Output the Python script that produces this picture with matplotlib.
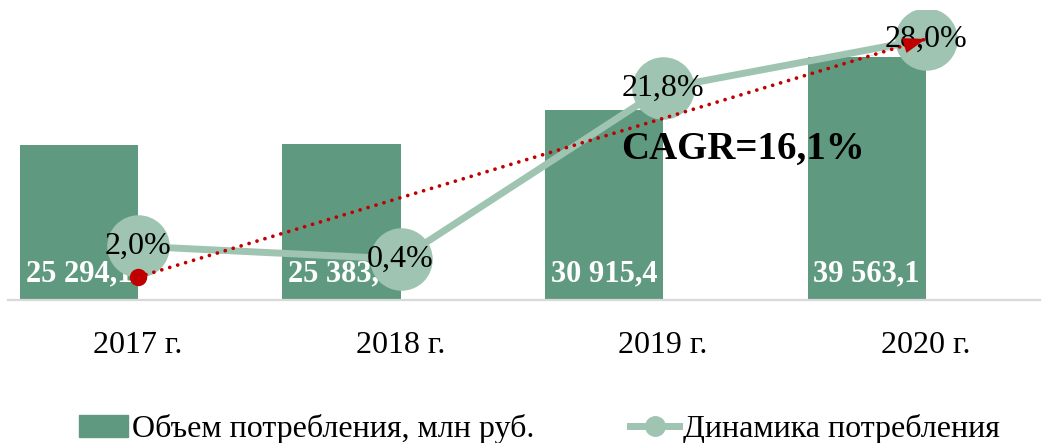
import matplotlib
matplotlib.use("Agg")
import matplotlib.pyplot as plt
import numpy as np
from matplotlib.patches import Patch
from matplotlib.lines import Line2D

plt.rcParams['font.family'] = ['Liberation Serif', 'DejaVu Serif']

# данные
years = ['2017 г.', '2018 г.', '2019 г.', '2020 г.']
volume = [25294.1, 25383.6, 30915.4, 39563.1]   # млн руб.
growth = [2.0, 0.4, 21.8, 28.0]                 # %
cagr_label = 'CAGR=16,1%'

bar_color = '#5f9a80'
line_color = '#9fc4b2'
red = '#c00000'

fig = plt.figure(figsize=(10.47, 4.43), dpi=100)
ax = fig.add_axes([8 / 1047, 1 - 300 / 443, 1032 / 1047, 290 / 443])
ax2 = ax.twinx()

x = np.arange(len(years))
shift = 0.225  # линия и подписи оси смещены к правому краю столбцов

ax.bar(x, volume, width=0.45, color=bar_color, zorder=2)
for xi, v in zip(x, volume):
    txt = f"{v:,.1f}".replace(',', ' ').replace('.', ',')
    ax.annotate(txt, xy=(xi, 0), xytext=(0, 19), textcoords='offset points',
                ha='center', va='center', color='white', fontsize=22,
                fontweight='bold', zorder=3)

ax.set_xlim(-0.27, 3.66)
ax.set_ylim(0, 47270)
ax.set_xticks(x + shift)
ax.set_xticklabels(years, fontsize=23)
ax.tick_params(axis='x', length=0, pad=22)
ax.set_yticks([])
for s in ['top', 'right', 'left']:
    ax.spines[s].set_visible(False)
ax.spines['bottom'].set_color('#d9d9d9')
ax.spines['bottom'].set_linewidth(1.6)

ax2.plot(x + shift, growth, color=line_color, lw=5, marker='o', markersize=44,
         solid_capstyle='round', zorder=3)
for xi, p in zip(x + shift, growth):
    ax2.text(xi, p, f"{p:.1f}%".replace('.', ','), ha='center', va='center',
             fontsize=23, color='black', zorder=5)

# линия тренда CAGR
t_start = (x[0] + shift, -1.86)
t_end = (x[-1] + shift, growth[-1])
ax2.plot([t_start[0], t_end[0]], [t_start[1], t_end[1]],
         linestyle=(0, (0.01, 2.2)), color=red, lw=2.7,
         dash_capstyle='round', zorder=4)
dx = t_end[0] - t_start[0]
dy = t_end[1] - t_start[1]
ax2.annotate('', xy=t_end, xytext=(t_end[0] - 0.1 * dx, t_end[1] - 0.1 * dy),
             arrowprops=dict(arrowstyle='-|>,head_length=1.6,head_width=0.55',
                             color=red, lw=0.1, shrinkA=0, shrinkB=0,
                             mutation_scale=10), zorder=6)
ax2.plot([t_start[0]], [t_start[1]], 'o', color=red, markersize=11.5, zorder=4)
ax2.text(2.53, 14.1, cagr_label, ha='center', va='center', fontsize=28,
         fontweight='bold', color='black', zorder=5)

ax2.set_ylim(-4.74, 31.64)
ax2.set_yticks([])
for s in ['top', 'right', 'left', 'bottom']:
    ax2.spines[s].set_visible(False)

handles = [Patch(color=bar_color),
           Line2D([0], [0], color=line_color, lw=5, marker='o', markersize=14)]
fig.legend(handles, ['Объем потребления, млн руб.', 'Динамика потребления'],
           loc='center', bbox_to_anchor=(0.515, 1 - 429 / 443), ncol=2,
           frameon=False, fontsize=23, handlelength=1.55, handletextpad=0.1,
           columnspacing=3.0)

fig.savefig('out.png', dpi=100)
